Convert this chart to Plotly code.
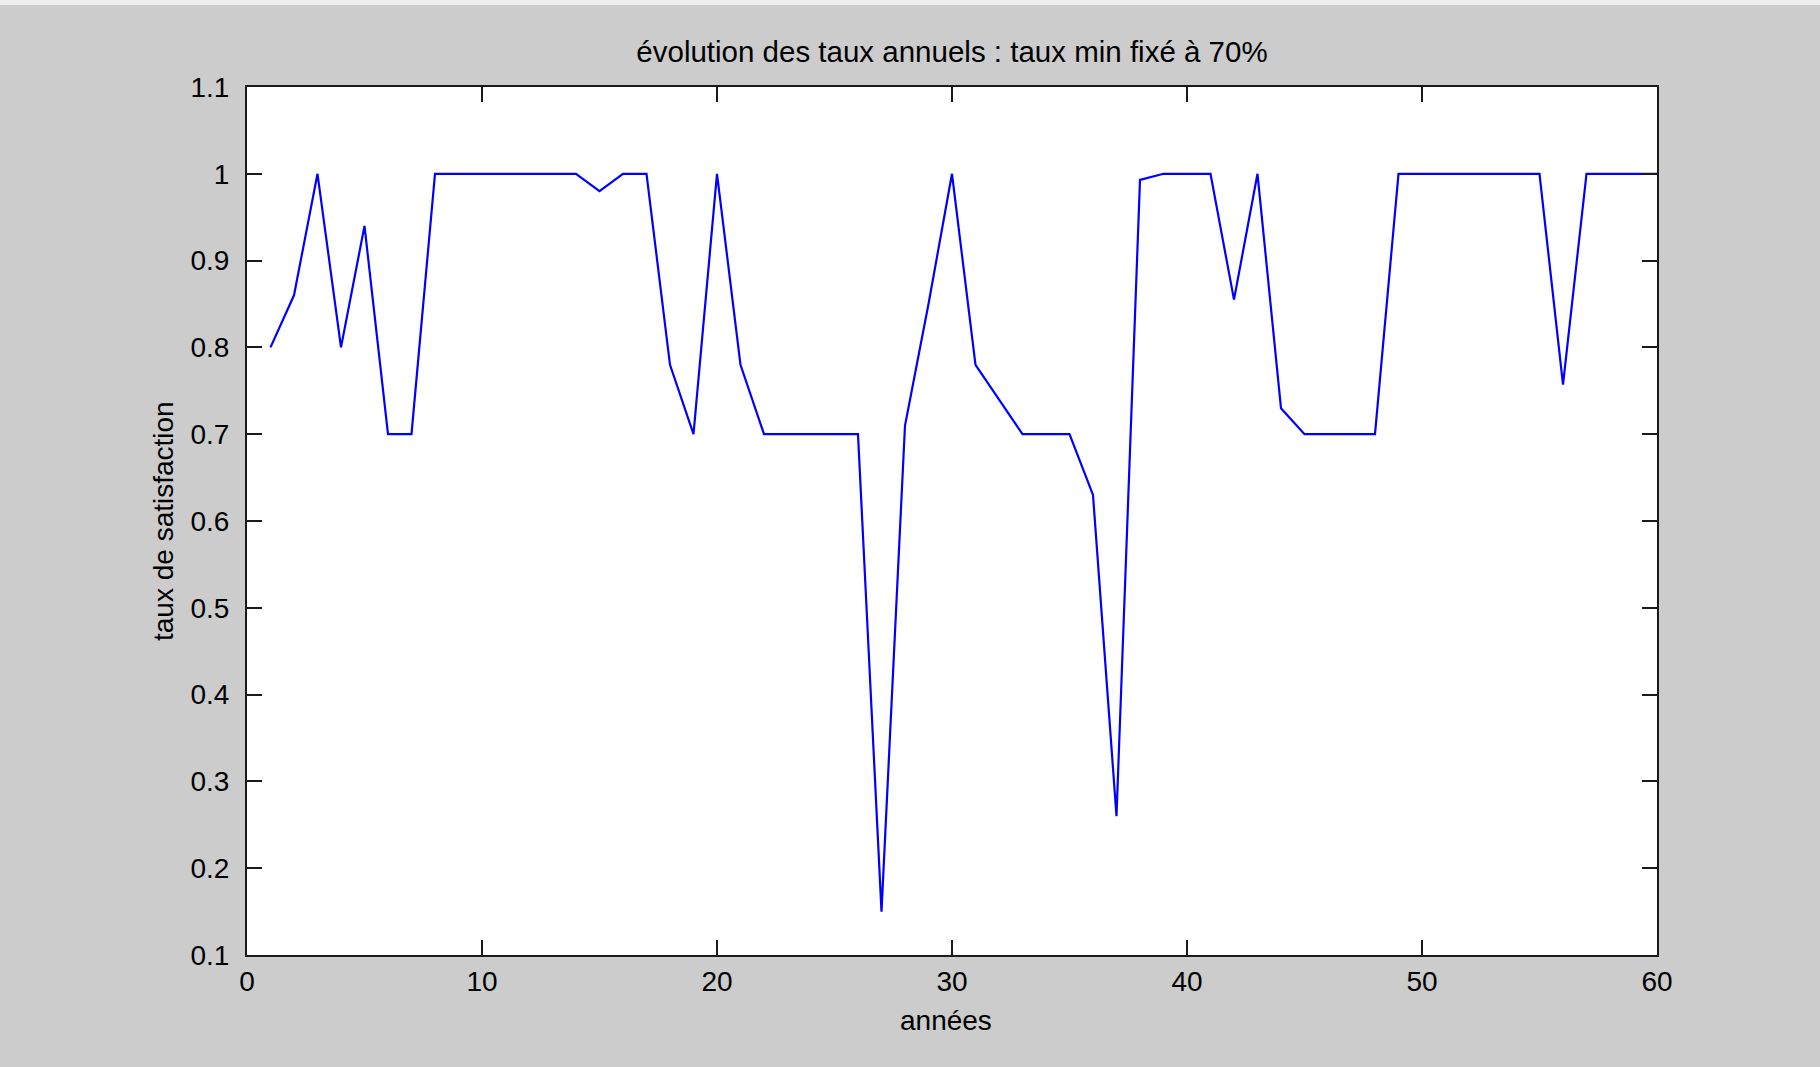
import plotly.graph_objects as go

# Annual satisfaction rate, minimum rate fixed at 70%
annees = list(range(1, 61))
taux = [
    0.80, 0.86, 1.00, 0.80, 0.94, 0.70, 0.70, 1.00, 1.00, 1.00,
    1.00, 1.00, 1.00, 1.00, 0.98, 1.00, 1.00, 0.78, 0.70, 1.00,
    0.78, 0.70, 0.70, 0.70, 0.70, 0.70, 0.15, 0.71, 0.85, 1.00,
    0.78, 0.74, 0.70, 0.70, 0.70, 0.63, 0.26, 0.993, 1.00, 1.00,
    1.00, 0.855, 1.00, 0.73, 0.70, 0.70, 0.70, 0.70, 1.00, 1.00,
    1.00, 1.00, 1.00, 1.00, 1.00, 0.757, 1.00, 1.00, 1.00, 1.00,
]

x_ticks = [0, 10, 20, 30, 40, 50, 60]
y_ticks = [0.1, 0.2, 0.3, 0.4, 0.5, 0.6, 0.7, 0.8, 0.9, 1.0, 1.1]
y_tick_text = ["0.1", "0.2", "0.3", "0.4", "0.5", "0.6", "0.7", "0.8", "0.9", "1", "1.1"]

FONT = "Liberation Sans, Arial, Helvetica, sans-serif"
W, H = 1820, 1067
L, R, T, B = 247, 163, 87, 112
plot_w = W - L - R
plot_h = H - T - B

fig = go.Figure()
fig.add_trace(go.Scatter(
    x=annees, y=taux, mode="lines",
    line=dict(color="#0000ff", width=2.2),
    hoverinfo="x+y", showlegend=False,
))

axis_common = dict(
    showgrid=False, zeroline=False,
    showline=True, linecolor="#1a1a1a", linewidth=2,
    mirror="ticks", ticks="inside", ticklen=15, tickwidth=1.6,
    tickcolor="#1a1a1a",
    tickfont=dict(family=FONT, size=28, color="#000000"),
)

fig.update_layout(
    width=W, height=H,
    margin=dict(l=L, r=R, t=T, b=B),
    paper_bgcolor="#cccccc",
    plot_bgcolor="#ffffff",
    title=dict(
        text="évolution des taux annuels : taux min fixé à 70%",
        font=dict(family=FONT, size=29.5, color="#000000"),
        x=0.5, xref="paper", xanchor="center",
        y=1 - 52 / H, yref="container", yanchor="middle",
    ),
    xaxis=dict(axis_common, range=[0, 60], tickmode="array", tickvals=x_ticks,
               ticklabelstandoff=0),
    yaxis=dict(axis_common, range=[0.1, 1.1], tickmode="array", tickvals=y_ticks,
               ticktext=y_tick_text, ticklabelstandoff=10),
    annotations=[
        dict(text="années", xref="paper", yref="paper",
             x=(946 - L) / plot_w, y=-(1020 - (H - B)) / plot_h,
             xanchor="center", yanchor="middle", showarrow=False,
             font=dict(family=FONT, size=28, color="#000000")),
        dict(text="taux de satisfaction", xref="paper", yref="paper",
             x=-(L - 163) / plot_w, y=0.5, textangle=-90,
             xanchor="center", yanchor="middle", showarrow=False,
             font=dict(family=FONT, size=28, color="#000000")),
    ],
    shapes=[
        # light band along the top edge of the window
        dict(type="rect", xref="paper", yref="paper", layer="below",
             x0=-L / plot_w, x1=(W - L) / plot_w,
             y0=1 + (T - 5) / plot_h, y1=1 + T / plot_h,
             fillcolor="#eeeeee", line=dict(width=0)),
    ],
)

fig.write_html("out.html")
